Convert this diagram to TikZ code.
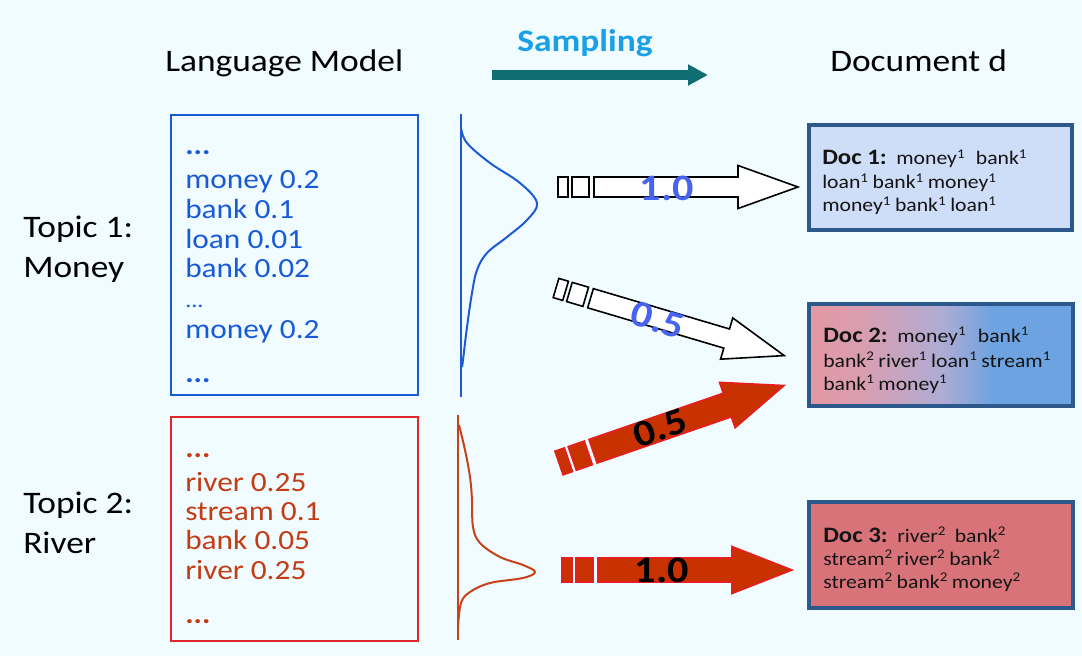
\documentclass[tikz,border=0pt]{standalone}
\usepackage{fontspec}
\setmainfont{Carlito}[FakeStretch=1.13]
\usetikzlibrary{arrows.meta}

\definecolor{bgc}{RGB}{240,252,255}
\definecolor{topicblue}{RGB}{25,90,215}
\definecolor{topicred}{RGB}{195,60,20}
\definecolor{boxred}{RGB}{225,40,40}
\definecolor{curveblue}{RGB}{30,90,210}
\definecolor{curvered}{RGB}{200,65,25}
\definecolor{docedge}{RGB}{44,88,140}
\definecolor{doconefill}{RGB}{206,221,248}
\definecolor{docthreefill}{RGB}{216,115,122}
\definecolor{docpink}{RGB}{228,152,162}
\definecolor{docpinklav}{RGB}{215,158,178}
\definecolor{doclav}{RGB}{175,172,212}
\definecolor{docblue}{RGB}{108,163,224}
\definecolor{sampteal}{RGB}{16,110,115}
\definecolor{sampcyan}{RGB}{25,160,230}
\definecolor{labblue}{RGB}{70,100,240}
\definecolor{arrowfill}{RGB}{200,50,0}
\definecolor{arrowedge}{RGB}{230,30,30}
\definecolor{doctext}{RGB}{20,20,20}

\pgfdeclarehorizontalshading{docmix}{100bp}{color(0bp)=(docpink); color(25bp)=(docpink); color(36bp)=(docpinklav); color(50bp)=(doclav); color(60bp)=(docblue); color(75bp)=(docblue); color(100bp)=(docblue)}

\newcommand{\su}[1]{\textsuperscript{#1}}
\newcommand{\doclabel}[1]{{\bfseries\fontsize{16.5}{18}\selectfont #1}}
\newcommand{\gap}{\hspace{0.2em}}

% block arrow: start coordinate, angle, length, half width, head half width, style
\newcommand{\blockarrow}[6]{%
  \begin{scope}[shift={(#1)}, rotate=#2]
    \path[#6] (0,-#4) rectangle (10,#4);
    \path[#6] (14,-#4) rectangle (31,#4);
    \path[#6] (36,-#4) -- ({#3-60},-#4) -- ({#3-60},-#5) -- (#3,0)
      -- ({#3-60},#5) -- ({#3-60},#4) -- (36,#4) -- cycle;
  \end{scope}}

\tikzset{
  txt/.style={inner sep=0pt, anchor=base west},
  title/.style={txt, font=\fontsize{23.5}{28}\selectfont},
  listblue/.style={txt, text=topicblue, font=\fontsize{20.8}{24}\selectfont},
  listred/.style={txt, text=topicred, font=\fontsize{20.8}{24}\selectfont},
  doctxt/.style={txt, text=doctext, font=\fontsize{14.4}{18}\selectfont},
  topicbox/.style={draw, line width=1.5pt, inner sep=0pt},
  docbox/.style={draw=docedge, line width=3pt, inner sep=0pt},
  arrowlab/.style={inner sep=0pt, font=\bfseries\fontsize{28}{30}\selectfont},
  hollow/.style={draw=black, fill=white, line width=1.2pt, line join=miter},
  solid red/.style={draw=arrowedge, fill=arrowfill, line width=1.2pt, line join=miter},
  density/.style={line width=1.5pt}
}

\begin{document}
\begin{tikzpicture}[x=0.75pt, y=-0.75pt]
\useasboundingbox (0,0) rectangle (1082,656);
\fill[bgc] (0,0) rectangle (1082,656);

% headings
\node[title] (lm) at (165,72) {Language Model};
\node[title] (docd) at (830,72) {Document d};
\node[inner sep=0pt, anchor=base, text=sampcyan, font=\bfseries\fontsize{23.5}{28}\selectfont] (samp) at (585,52) {Sampling};
\coordinate (sampA) at (492,75);
\coordinate (sampB) at (708,75);
\draw[sampteal, line width=7.5pt, -{Triangle[length=15pt, width=15pt]}] (sampA) -- (sampB);

% topic labels
\node[title] (t1a) at (23,238) {Topic 1:};
\node[title] (t1b) at (23,277) {Money};
\node[title] (t2a) at (23,513) {Topic 2:};
\node[title] (t2b) at (23,553) {River};

% topic word lists
\node[topicbox, draw=topicblue, minimum width=185.25pt, minimum height=210pt] (box1) at (294.5,255) {};
\node[topicbox, draw=boxred, minimum width=185.25pt, minimum height=168pt] (box2) at (294.5,529) {};

\node[listblue, font=\bfseries\fontsize{20.8}{24}\selectfont] (w1) at (185,155) {...};
\node[listblue] (w2) at (185,189) {money 0.2};
\node[listblue] (w3) at (185,219) {bank 0.1};
\node[listblue] (w4) at (185,248) {loan 0.01};
\node[listblue] (w5) at (185,277) {bank 0.02};
\node[listblue, font=\fontsize{16}{20}\selectfont] (w6) at (185,307) {...};
\node[listblue] (w7) at (185,338) {money 0.2};
\node[listblue, font=\bfseries\fontsize{20.8}{24}\selectfont] (w8) at (185,382) {...};

\node[listred, font=\bfseries\fontsize{20.8}{24}\selectfont] (r1) at (185,457) {...};
\node[listred] (r2) at (185,491) {river 0.25};
\node[listred] (r3) at (185,520) {stream 0.1};
\node[listred] (r4) at (185,549) {bank 0.05};
\node[listred] (r5) at (185,579) {river 0.25};
\node[listred, font=\bfseries\fontsize{20.8}{24}\selectfont] (r6) at (185,623) {...};

% word distributions
\draw[curveblue, density] (461,114) -- (461,397);
\draw[curveblue, density] plot[smooth, tension=0.6] coordinates {(461,128) (467,143) (490,163) (520,183) (537,203) (527,220) (507,237) (487,253) (477,270) (472,293) (467,327) (463,360) (462,367)};
\draw[curvered, density] (458,415) -- (458,640);
\draw[curvered, density] plot[smooth, tension=0.6] coordinates {(459,425) (465,450) (470,477) (472,500) (473,527) (480,543) (500,557) (523,565) (535,572) (523,578) (490,583) (470,592) (461,603) (458,627)};

% sampling arrows
\coordinate (s1) at (558,187);
\coordinate (s2) at (556,288);
\coordinate (s3) at (559,463);
\coordinate (s4) at (562,570);
\blockarrow{s1}{0}{240}{10}{21.5}{hollow}
\blockarrow{s2}{-16.5}{238}{10}{21.5}{hollow}
\blockarrow{s3}{19}{238}{12.5}{24}{solid red}
\blockarrow{s4}{0}{230}{12}{23.5}{solid red}
\node[arrowlab, text=labblue] (p1) at (667,188) {1.0};
\node[arrowlab, text=labblue, rotate=-16.5] (p2) at (658,320) {0.5};
\node[arrowlab, text=black, rotate=19] (p3) at (660,428) {0.5};
\node[arrowlab, text=black] (p4) at (662,570) {1.0};

% documents
\node[docbox, fill=doconefill, minimum width=197.25pt, minimum height=78.75pt] (doc1) at (940.5,177.5) {};
\node[docbox, shading=docmix, minimum width=198pt, minimum height=76.5pt] (doc2) at (941,355) {};
\node[docbox, fill=docthreefill, minimum width=198pt, minimum height=79.5pt] (doc3) at (941,555) {};

\node[doctxt] (d1a) at (822,165) {\doclabel{Doc 1:}\hspace{0.5em}money\su{1}\hspace{0.55em}bank\su{1}};
\node[doctxt] (d1b) at (822,189) {loan\su{1}\gap bank\su{1}\gap money\su{1}};
\node[doctxt] (d1c) at (822,212) {money\su{1}\gap bank\su{1}\gap loan\su{1}};

\node[doctxt] (d2a) at (823,342) {\doclabel{Doc 2:}\hspace{0.5em}money\su{1}\hspace{0.6em}bank\su{1}};
\node[doctxt] (d2b) at (823,367) {bank\su{2}\gap river\su{1}\gap loan\su{1}\gap stream\su{1}};
\node[doctxt] (d2c) at (823,390) {bank\su{1}\gap money\su{1}};

\node[doctxt] (d3a) at (823,542) {\doclabel{Doc 3:}\hspace{0.5em}river\su{2}\hspace{0.45em}bank\su{2}};
\node[doctxt] (d3b) at (823,565) {stream\su{2}\gap river\su{2}\gap bank\su{2}};
\node[doctxt] (d3c) at (823,588) {stream\su{2}\gap bank\su{2}\gap money\su{2}};
\end{tikzpicture}
\end{document}
